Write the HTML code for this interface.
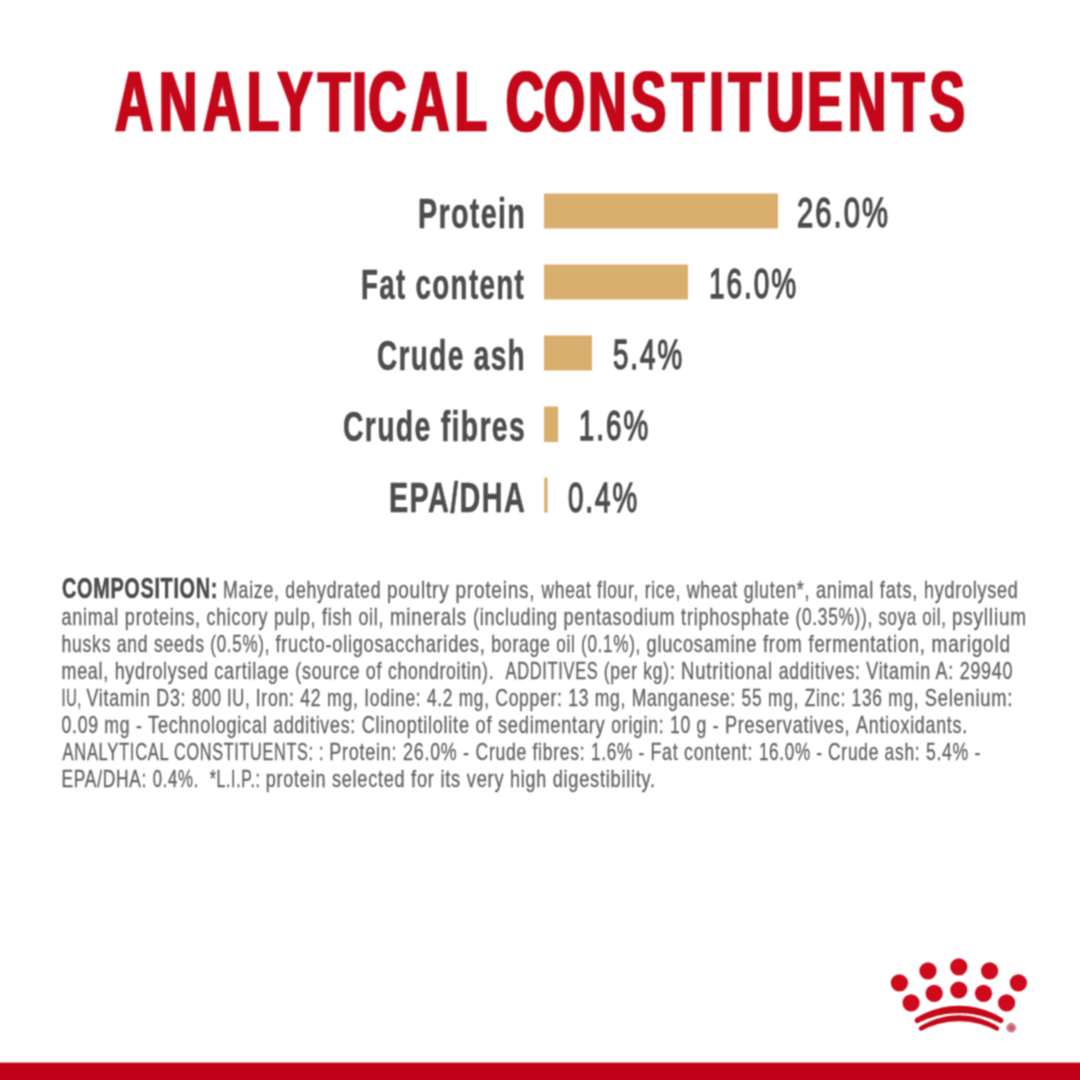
<!DOCTYPE html>
<html lang="en">
<head>
<meta charset="utf-8">
<title>Analytical Constituents</title>
<style>
  html, body { margin: 0; padding: 0; background: #ffffff; }
  body { width: 1080px; height: 1080px; overflow: hidden; }
  svg { display: block; }
  text { font-family: "Liberation Sans", Arial, sans-serif; white-space: pre; }
  .title { font-weight: 700; fill: #c5071a; stroke: #c5071a; stroke-width: 0.6; letter-spacing: 0; }
  .lab { font-weight: 700; fill: #4d4d4d; stroke: #4d4d4d; stroke-width: 0.5; letter-spacing: 2px; }
  .val { font-weight: 400; fill: #4d4d4d; stroke: #4d4d4d; stroke-width: 1.4; letter-spacing: 3px; }
  .bar { fill: #daae6c; }
  .body { font-weight: 400; fill: #616161; stroke: #616161; stroke-width: 0.3; letter-spacing: 1px; }
  .bodyb { font-weight: 700; fill: #4a4a4a; stroke: #4a4a4a; stroke-width: 0.5; letter-spacing: 1px; }
  .logo { fill: #cf0a1c; }
</style>
</head>
<body>
<svg width="1080" height="1080" viewBox="0 0 1080 1080">
  <defs>
    <filter id="thickx" x="-5%" y="-10%" width="110%" height="120%" color-interpolation-filters="sRGB">
      <feMorphology operator="dilate" radius="1 0"/>
    </filter>
    <filter id="soft" x="0" y="0" width="1080" height="1080" filterUnits="userSpaceOnUse" color-interpolation-filters="sRGB">
      <feConvolveMatrix order="3" kernelMatrix="1 2 1 2 4 2 1 2 1" divisor="16" edgeMode="duplicate"/>
    </filter>
  </defs>
  <g filter="url(#soft)">
  <rect x="0" y="0" width="1080" height="1080" fill="#ffffff"/>

  <!-- Bars -->
  <rect class="bar" x="544" y="193.5" width="234" height="35"/>
  <rect class="bar" x="544" y="264.5" width="144" height="35"/>
  <rect class="bar" x="544" y="335.5" width="48" height="35"/>
  <rect class="bar" x="544" y="406.5" width="14" height="35.5"/>
  <rect class="bar" x="544.2" y="477.6" width="3.4" height="35"/>

  <!-- Texts -->
  <g filter="url(#thickx)"><text class="title" transform="scale(0.61771,1)" x="186.18 257.54 328.81 399.57 449.09 514.83 570.21 596.33 665.46 735.73 788.26 818.60 880.38 952.36 1021.13 1087.35 1148.23 1179.46 1239.90 1307.00 1372.63 1443.91 1504.69" y="130.6" font-size="86">ANALYTICAL CONSTITUENTS</text></g>
  <text id="l1" class="lab" x="417.90" y="227.7" font-size="42.4" textLength="108.29" lengthAdjust="spacingAndGlyphs">Protein</text>
  <text id="l2" class="lab" x="360.96" y="298.7" font-size="42.4" textLength="164.08" lengthAdjust="spacingAndGlyphs">Fat content</text>
  <text id="l3" class="lab" x="376.97" y="369.6" font-size="42.4" textLength="149.11" lengthAdjust="spacingAndGlyphs">Crude ash</text>
  <text id="l4" class="lab" x="342.97" y="440.5" font-size="42.4" textLength="183.09" lengthAdjust="spacingAndGlyphs">Crude fibres</text>
  <text id="l5" class="lab" x="388.94" y="511.8" font-size="42.4" textLength="137.15" lengthAdjust="spacingAndGlyphs">EPA/DHA</text>
  <text id="v1" class="val" x="796.94" y="227.3" font-size="42.8" textLength="93.18" lengthAdjust="spacingAndGlyphs">26.0%</text>
  <text id="v2" class="val" x="708.90" y="298.3" font-size="42.8" textLength="89.21" lengthAdjust="spacingAndGlyphs">16.0%</text>
  <text id="v3" class="val" x="612.95" y="369.1" font-size="42.8" textLength="71.19" lengthAdjust="spacingAndGlyphs">5.4%</text>
  <text id="v4" class="val" x="578.87" y="439.9" font-size="42.8" textLength="71.30" lengthAdjust="spacingAndGlyphs">1.6%</text>
  <text id="v5" class="val" x="567.92" y="511.6" font-size="42.8" textLength="71.14" lengthAdjust="spacingAndGlyphs">0.4%</text>
  <text id="b0" class="bodyb" x="61.97" y="598" font-size="30" textLength="156.10" lengthAdjust="spacingAndGlyphs">COMPOSITION:</text>
  <text class="body" y="598" font-size="24"><tspan id="s0_0" x="223.10" textLength="163.80" lengthAdjust="spacingAndGlyphs">Maize, dehydrated </tspan><tspan id="s0_1" x="386.90" textLength="154.60" lengthAdjust="spacingAndGlyphs">poultry proteins, </tspan><tspan id="s0_2" x="541.50" textLength="145.20" lengthAdjust="spacingAndGlyphs">wheat flour, rice, </tspan><tspan id="s0_3" x="686.70" textLength="129.20" lengthAdjust="spacingAndGlyphs">wheat gluten*, </tspan><tspan id="s0_4" x="815.90" textLength="107.98" lengthAdjust="spacingAndGlyphs">animal fats, </tspan><tspan id="s0_5" x="923.88" textLength="94.64" lengthAdjust="spacingAndGlyphs">hydrolysed</tspan></text>
  <text class="body" y="625" font-size="24"><tspan id="s1_0" x="61.50" textLength="145.00" lengthAdjust="spacingAndGlyphs">animal proteins, </tspan><tspan id="s1_1" x="206.50" textLength="183.40" lengthAdjust="spacingAndGlyphs">chicory pulp, fish oil, </tspan><tspan id="s1_2" x="389.90" textLength="83.00" lengthAdjust="spacingAndGlyphs">minerals </tspan><tspan id="s1_3" x="472.90" textLength="208.20" lengthAdjust="spacingAndGlyphs">(including pentasodium </tspan><tspan id="s1_4" x="681.10" textLength="114.40" lengthAdjust="spacingAndGlyphs">triphosphate </tspan><tspan id="s1_5" x="795.50" textLength="83.00" lengthAdjust="spacingAndGlyphs">(0.35%)), </tspan><tspan id="s1_6" x="878.50" textLength="73.39" lengthAdjust="spacingAndGlyphs">soya oil, </tspan><tspan id="s1_7" x="951.89" textLength="75.04" lengthAdjust="spacingAndGlyphs">psyllium</tspan></text>
  <text class="body" y="652" font-size="24"><tspan id="s2_0" x="61.50" textLength="148.80" lengthAdjust="spacingAndGlyphs">husks and seeds </tspan><tspan id="s2_1" x="210.30" textLength="65.20" lengthAdjust="spacingAndGlyphs">(0.5%), </tspan><tspan id="s2_2" x="275.50" textLength="215.80" lengthAdjust="spacingAndGlyphs">fructo-oligosaccharides, </tspan><tspan id="s2_3" x="491.30" textLength="65.00" lengthAdjust="spacingAndGlyphs">borage </tspan><tspan id="s2_4" x="556.30" textLength="90.20" lengthAdjust="spacingAndGlyphs">oil (0.1%), </tspan><tspan id="s2_5" x="646.50" textLength="116.40" lengthAdjust="spacingAndGlyphs">glucosamine </tspan><tspan id="s2_6" x="762.90" textLength="168.56" lengthAdjust="spacingAndGlyphs">from fermentation, </tspan><tspan id="s2_7" x="931.46" textLength="79.51" lengthAdjust="spacingAndGlyphs">marigold</tspan></text>
  <text class="body" y="679" font-size="24"><tspan id="s3_0" x="61.50" textLength="152.80" lengthAdjust="spacingAndGlyphs">meal, hydrolysed </tspan><tspan id="s3_1" x="214.30" textLength="81.00" lengthAdjust="spacingAndGlyphs">cartilage </tspan><tspan id="s3_2" x="295.30" textLength="92.60" lengthAdjust="spacingAndGlyphs">(source of </tspan><tspan id="s3_3" x="387.90" textLength="117.60" lengthAdjust="spacingAndGlyphs">chondroitin).  </tspan><tspan id="s3_4" x="505.50" textLength="98.20" lengthAdjust="spacingAndGlyphs">ADDITIVES </tspan><tspan id="s3_5" x="603.70" textLength="77.40" lengthAdjust="spacingAndGlyphs">(per kg): </tspan><tspan id="s3_6" x="681.10" textLength="97.60" lengthAdjust="spacingAndGlyphs">Nutritional </tspan><tspan id="s3_7" x="778.70" textLength="87.60" lengthAdjust="spacingAndGlyphs">additives: </tspan><tspan id="s3_8" x="866.30" textLength="93.37" lengthAdjust="spacingAndGlyphs">Vitamin A: </tspan><tspan id="s3_9" x="959.67" textLength="53.64" lengthAdjust="spacingAndGlyphs">29940</tspan></text>
  <text class="body" y="706" font-size="24"><tspan id="s4_0" x="61.50" textLength="25.00" lengthAdjust="spacingAndGlyphs">IU, </tspan><tspan id="s4_1" x="86.50" textLength="105.40" lengthAdjust="spacingAndGlyphs">Vitamin D3: </tspan><tspan id="s4_2" x="191.90" textLength="63.80" lengthAdjust="spacingAndGlyphs">800 IU, </tspan><tspan id="s4_3" x="255.70" textLength="108.60" lengthAdjust="spacingAndGlyphs">Iron: 42 mg, </tspan><tspan id="s4_4" x="364.30" textLength="131.00" lengthAdjust="spacingAndGlyphs">Iodine: 4.2 mg, </tspan><tspan id="s4_5" x="495.30" textLength="136.40" lengthAdjust="spacingAndGlyphs">Copper: 13 mg, </tspan><tspan id="s4_6" x="631.70" textLength="109.80" lengthAdjust="spacingAndGlyphs">Manganese: </tspan><tspan id="s4_7" x="741.50" textLength="63.20" lengthAdjust="spacingAndGlyphs">55 mg, </tspan><tspan id="s4_8" x="804.70" textLength="120.17" lengthAdjust="spacingAndGlyphs">Zinc: 136 mg, </tspan><tspan id="s4_9" x="924.87" textLength="88.29" lengthAdjust="spacingAndGlyphs">Selenium:</tspan></text>
  <text class="body" y="733" font-size="24"><tspan id="s5_0" x="61.50" textLength="86.60" lengthAdjust="spacingAndGlyphs">0.09 mg - </tspan><tspan id="s5_1" x="148.10" textLength="125.20" lengthAdjust="spacingAndGlyphs">Technological </tspan><tspan id="s5_2" x="273.30" textLength="88.40" lengthAdjust="spacingAndGlyphs">additives: </tspan><tspan id="s5_3" x="361.70" textLength="113.80" lengthAdjust="spacingAndGlyphs">Clinoptilolite </tspan><tspan id="s5_4" x="475.50" textLength="135.80" lengthAdjust="spacingAndGlyphs">of sedimentary </tspan><tspan id="s5_5" x="611.30" textLength="113.60" lengthAdjust="spacingAndGlyphs">origin: 10 g - </tspan><tspan id="s5_6" x="724.90" textLength="131.20" lengthAdjust="spacingAndGlyphs">Preservatives, </tspan><tspan id="s5_7" x="856.10" textLength="111.82" lengthAdjust="spacingAndGlyphs">Antioxidants.</tspan></text>
  <text class="body" y="760" font-size="24"><tspan id="s6_0" x="62.50" textLength="111.60" lengthAdjust="spacingAndGlyphs">ANALYTICAL </tspan><tspan id="s6_1" x="174.10" textLength="155.20" lengthAdjust="spacingAndGlyphs">CONSTITUENTS: : </tspan><tspan id="s6_2" x="329.30" textLength="73.80" lengthAdjust="spacingAndGlyphs">Protein: </tspan><tspan id="s6_3" x="403.10" textLength="72.40" lengthAdjust="spacingAndGlyphs">26.0% - </tspan><tspan id="s6_4" x="475.50" textLength="115.40" lengthAdjust="spacingAndGlyphs">Crude fibres: </tspan><tspan id="s6_5" x="590.90" textLength="59.60" lengthAdjust="spacingAndGlyphs">1.6% - </tspan><tspan id="s6_6" x="650.50" textLength="108.40" lengthAdjust="spacingAndGlyphs">Fat content: </tspan><tspan id="s6_7" x="758.90" textLength="69.20" lengthAdjust="spacingAndGlyphs">16.0% - </tspan><tspan id="s6_8" x="828.10" textLength="97.79" lengthAdjust="spacingAndGlyphs">Crude ash: </tspan><tspan id="s6_9" x="925.89" textLength="55.23" lengthAdjust="spacingAndGlyphs">5.4% -</tspan></text>
  <text class="body" y="787" font-size="24"><tspan id="s7_0" x="61.50" textLength="91.20" lengthAdjust="spacingAndGlyphs">EPA/DHA: </tspan><tspan id="s7_1" x="152.70" textLength="57.00" lengthAdjust="spacingAndGlyphs">0.4%.  </tspan><tspan id="s7_2" x="209.70" textLength="56.00" lengthAdjust="spacingAndGlyphs">*L.I.P.: </tspan><tspan id="s7_3" x="265.70" textLength="145.40" lengthAdjust="spacingAndGlyphs">protein selected </tspan><tspan id="s7_4" x="411.10" textLength="99.00" lengthAdjust="spacingAndGlyphs">for its very </tspan><tspan id="s7_5" x="510.10" textLength="42.59" lengthAdjust="spacingAndGlyphs">high </tspan><tspan id="s7_6" x="552.69" textLength="103.24" lengthAdjust="spacingAndGlyphs">digestibility.</tspan></text>

  <!-- Royal Canin crown logo -->
  <g class="logo">
    <circle cx="899.4" cy="982.9" r="8.6"/>
    <circle cx="928.0" cy="970.9" r="8.6"/>
    <circle cx="958.8" cy="966.9" r="8.6"/>
    <circle cx="989.6" cy="970.9" r="8.6"/>
    <circle cx="1018.4" cy="982.9" r="8.6"/>
    <circle cx="911.1" cy="1002.9" r="8.6"/>
    <circle cx="934.2" cy="993.3" r="8.6"/>
    <circle cx="958.8" cy="990.0" r="8.6"/>
    <circle cx="983.5" cy="993.3" r="8.6"/>
    <circle cx="1006.6" cy="1002.9" r="8.6"/>
  </g>
  <path d="M915.97 1018.11 L917.91 1016.96 L919.87 1015.86 L921.87 1014.81 L923.90 1013.81 L925.95 1012.87 L928.03 1011.98 L930.13 1011.15 L932.26 1010.37 L934.41 1009.65 L936.58 1008.99 L938.76 1008.39 L940.97 1007.85 L943.19 1007.37 L945.42 1006.96 L947.67 1006.61 L949.92 1006.32 L952.18 1006.09 L954.45 1005.93 L956.73 1005.83 L959.00 1005.80 L961.27 1005.83 L963.55 1005.93 L965.82 1006.09 L968.08 1006.32 L970.33 1006.61 L972.58 1006.96 L974.81 1007.37 L977.03 1007.85 L979.24 1008.39 L981.42 1008.99 L983.59 1009.65 L985.74 1010.37 L987.87 1011.15 L989.97 1011.98 L992.05 1012.87 L994.10 1013.81 L996.13 1014.81 L998.13 1015.86 L1000.09 1016.96 L1002.03 1018.11 L1002.59 1018.53 L1003.03 1019.09 L1003.30 1019.74 L1003.40 1020.44 L1003.31 1021.14 L1003.05 1021.79 L1002.63 1022.35 L1002.07 1022.79 L1001.42 1023.06 L1000.73 1023.16 L1000.03 1023.08 L999.37 1022.81 L997.48 1021.87 L995.58 1020.97 L993.65 1020.13 L991.70 1019.33 L989.73 1018.58 L987.75 1017.88 L985.76 1017.23 L983.75 1016.63 L981.72 1016.08 L979.69 1015.58 L977.65 1015.13 L975.60 1014.72 L973.54 1014.36 L971.48 1014.05 L969.40 1013.79 L967.33 1013.58 L965.25 1013.41 L963.17 1013.29 L961.08 1013.22 L959.00 1013.20 L956.92 1013.22 L954.83 1013.29 L952.75 1013.41 L950.67 1013.58 L948.60 1013.79 L946.52 1014.05 L944.46 1014.36 L942.40 1014.72 L940.35 1015.13 L938.31 1015.58 L936.28 1016.08 L934.25 1016.63 L932.24 1017.23 L930.25 1017.88 L928.27 1018.58 L926.30 1019.33 L924.35 1020.13 L922.42 1020.97 L920.52 1021.87 L918.63 1022.81 L917.97 1023.08 L917.27 1023.16 L916.58 1023.06 L915.93 1022.79 L915.37 1022.35 L914.95 1021.79 L914.69 1021.14 L914.60 1020.44 L914.70 1019.74 L914.97 1019.09 L915.41 1018.53 Z" fill="#c40818"/>
  <path d="M919.90 1026.58 L921.66 1025.52 L923.44 1024.51 L925.25 1023.55 L927.09 1022.63 L928.96 1021.77 L930.85 1020.95 L932.76 1020.19 L934.69 1019.48 L936.64 1018.82 L938.61 1018.22 L940.60 1017.67 L942.61 1017.18 L944.62 1016.74 L946.66 1016.36 L948.70 1016.04 L950.75 1015.77 L952.80 1015.57 L954.87 1015.42 L956.93 1015.33 L959.00 1015.30 L961.07 1015.33 L963.13 1015.42 L965.20 1015.57 L967.25 1015.77 L969.30 1016.04 L971.34 1016.36 L973.38 1016.74 L975.39 1017.18 L977.40 1017.67 L979.39 1018.22 L981.36 1018.82 L983.31 1019.48 L985.24 1020.19 L987.15 1020.95 L989.04 1021.77 L990.91 1022.63 L992.75 1023.55 L994.56 1024.51 L996.34 1025.52 L998.10 1026.58 L998.56 1026.93 L998.91 1027.38 L999.13 1027.91 L999.20 1028.48 L999.13 1029.05 L998.91 1029.58 L998.56 1030.04 L998.10 1030.39 L997.57 1030.61 L997.00 1030.68 L996.43 1030.61 L995.90 1030.39 L994.18 1029.50 L992.45 1028.66 L990.69 1027.86 L988.92 1027.11 L987.12 1026.40 L985.32 1025.74 L983.50 1025.13 L981.66 1024.56 L979.81 1024.04 L977.95 1023.56 L976.09 1023.13 L974.21 1022.75 L972.32 1022.41 L970.43 1022.11 L968.54 1021.86 L966.63 1021.66 L964.73 1021.50 L962.82 1021.39 L960.91 1021.32 L959.00 1021.30 L957.09 1021.32 L955.18 1021.39 L953.27 1021.50 L951.37 1021.66 L949.46 1021.86 L947.57 1022.11 L945.68 1022.41 L943.79 1022.75 L941.91 1023.13 L940.05 1023.56 L938.19 1024.04 L936.34 1024.56 L934.50 1025.13 L932.68 1025.74 L930.88 1026.40 L929.08 1027.11 L927.31 1027.86 L925.55 1028.66 L923.82 1029.50 L922.10 1030.39 L921.57 1030.61 L921.00 1030.68 L920.43 1030.61 L919.90 1030.39 L919.44 1030.04 L919.09 1029.58 L918.87 1029.05 L918.80 1028.48 L918.87 1027.91 L919.09 1027.38 L919.44 1026.93 Z" fill="#c40818"/>
  <circle cx="1011.2" cy="1027.7" r="4.3" fill="#d98090" stroke="#b8506a" stroke-width="0.8"/>
  <text x="1011.3" y="1029.8" font-size="6" text-anchor="middle" fill="#a0404f" font-weight="700">R</text>

  <!-- Bottom red band -->
  <rect x="0" y="1062.6" width="1080" height="17.4" fill="#c00018"/>
  </g>
</svg>
</body>
</html>
